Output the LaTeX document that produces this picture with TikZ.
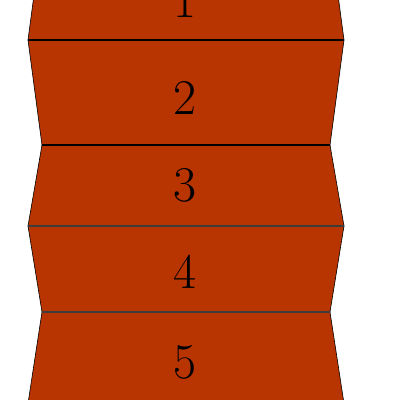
\documentclass[tikz,border=0pt]{standalone}
\definecolor{brick}{RGB}{184,52,0}
\definecolor{seam}{RGB}{60,60,60}
\begin{document}
\begin{tikzpicture}[x=1pt,y=-1pt,
  piece/.style={fill=brick,draw=black,line width=0.6pt,line join=miter},
  darkfold/.style={draw=black,line width=1.3pt},
  greyfold/.style={draw=seam,line width=1.3pt},
  lbl/.style={font=\fontsize{50}{60}\selectfont,inner sep=0pt}]
\useasboundingbox (0,0) rectangle (400,400);
\clip (0,0) rectangle (400,400);
\draw[piece] (42,-65) -- (330,-65) -- (344,40) -- (28,40) -- cycle;
\draw[piece] (28,40) -- (344,40) -- (330,145) -- (42,145) -- cycle;
\draw[piece] (42,145) -- (330,145) -- (344,226) -- (28,226) -- cycle;
\draw[piece] (28,226) -- (344,226) -- (330,312) -- (42,312) -- cycle;
\draw[piece] (42,312) -- (330,312) -- (345,410) -- (27,410) -- cycle;
\coordinate (a1) at (28,40);  \coordinate (b1) at (344,40);
\coordinate (a2) at (42,145); \coordinate (b2) at (330,145);
\coordinate (a3) at (28,226); \coordinate (b3) at (344,226);
\coordinate (a4) at (42,312); \coordinate (b4) at (330,312);
\draw[darkfold] (a1) -- (b1);
\draw[darkfold] (a2) -- (b2);
\draw[greyfold] (a3) -- (b3);
\draw[greyfold] (a4) -- (b4);
\node[lbl] (l1) at (185,1) {1};
\node[lbl] (l2) at (185,97.5) {2};
\node[lbl] (l3) at (185,185) {3};
\node[lbl] (l4) at (185,272) {4};
\node[lbl] (l5) at (185,362) {5};
\end{tikzpicture}
\end{document}
